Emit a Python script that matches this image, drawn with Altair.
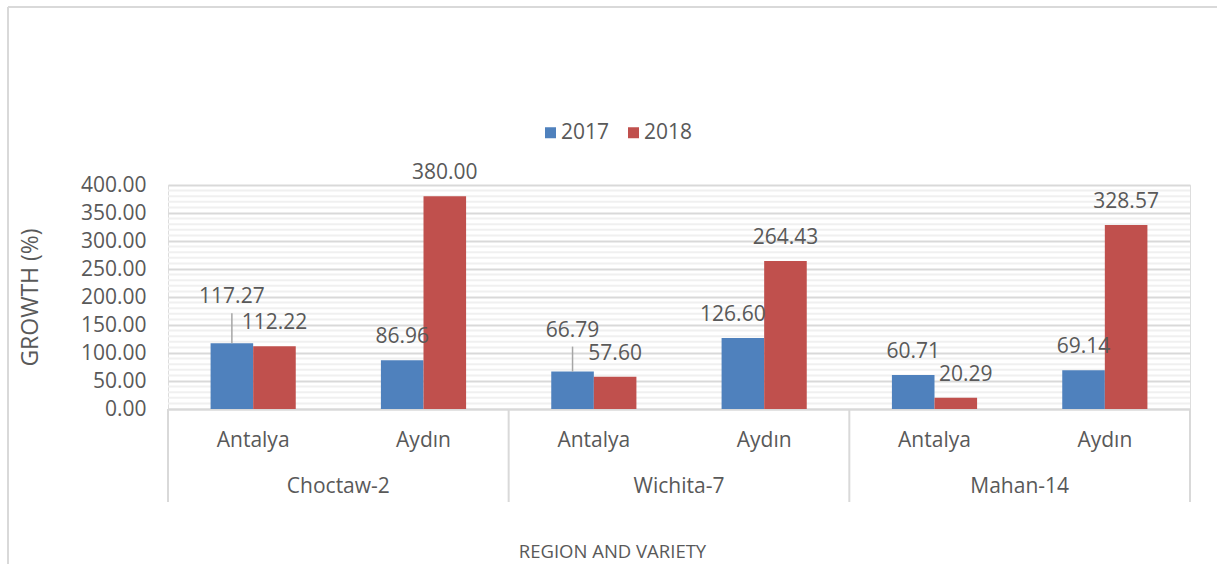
import altair as alt
import pandas as pd

# ---------------- data ----------------
varieties = ["Choctaw-2", "Wichita-7", "Mahan-14"]
regions = ["Antalya", "Aydın"]
years = ["2017", "2018"]
growth_2017 = [117.27, 86.96, 66.79, 126.60, 60.71, 69.14]
growth_2018 = [112.22, 380.00, 57.60, 264.43, 20.29, 328.57]
y_ticks = [0, 50, 100, 150, 200, 250, 300, 350, 400]

# label nudges in pixels: (variety, region, year) -> (dx, dy, leader length)
label_nudge = {
    ("Choctaw-2", "Antalya", "2017"): (0, -40, 30),
    ("Wichita-7", "Antalya", "2017"): (0, -35, 25),
    ("Wichita-7", "Aydın", "2017"): (-10, -17, 0),
    ("Mahan-14", "Antalya", "2018"): (10, -17, 0),
}
DEFAULT_NUDGE = (0, -17, 0)

rows = []
for vi, v in enumerate(varieties):
    for ri, r in enumerate(regions):
        idx = vi * len(regions) + ri
        for yr, vals in zip(years, [growth_2017, growth_2018]):
            dx, dy, lead = label_nudge.get((v, r, yr), DEFAULT_NUDGE)
            rows.append({
                "key": f"{v}|{r}", "variety": v, "region": r, "year": yr,
                "value": vals[idx], "label": f"{vals[idx]:.2f}",
                "nudge": f"{dx},{dy}", "lead": lead,
            })
df = pd.DataFrame(rows)
keys = [f"{v}|{r}" for v in varieties for r in regions]
groups = pd.DataFrame({"key": [f"{v}|{regions[0]}" for v in varieties], "variety": varieties})
last = pd.DataFrame({"key": [keys[-1]]})

# ---------------- layout ----------------
W, H = 1022, 224
PAD = {"left": 168, "top": 185, "right": 27, "bottom": 155}
TXT = "#595959"
FONT = "Open Sans"
PX_PER_UNIT = H / 400.0

xscale = alt.Scale(domain=keys, paddingInner=0, paddingOuter=0)
yscale = alt.Scale(domain=[0, 400], nice=False)

x_axis = alt.Axis(
    labelExpr="split(datum.value, '|')[1]", labelFontSize=21, labelColor=TXT,
    labelFont=FONT, labelPadding=31, labelBaseline="middle", labelAngle=0,
    ticks=False, tickSize=0, domainColor="#d9d9d9", domainWidth=2,
    title="REGION AND VARIETY", titleX=444, titleY=142, titleFontSize=18.5,
    titleFontWeight="normal", titleColor=TXT, titleFont=FONT,
    titleBaseline="middle", titleAlign="center", grid=False,
)
y_axis = alt.Axis(
    values=y_ticks, tickCount=len(y_ticks), format=".2f", labelFontSize=21,
    labelColor=TXT, labelFont=FONT, labelPadding=22, labelOverlap=False,
    ticks=False, domain=False, gridColor="#d9d9d9", gridWidth=2,
    title="GROWTH (%)", titleX=-138, titleY=112, titleAngle=270,
    titleBaseline="middle", titleAlign="center", titleFontSize=23,
    titleFontWeight="normal", titleColor=TXT, titleFont=FONT,
)

xenc = alt.X("key:N", scale=xscale, axis=x_axis, sort=keys)
xoff = alt.XOffset("year:N", scale=alt.Scale(domain=years, paddingInner=0, paddingOuter=1))
yenc = alt.Y("value:Q", scale=yscale, axis=y_axis)

minor = alt.Chart(alt.sequence(10, 400, 10, as_="value")).transform_filter(
    "datum.value % 50 != 0"
).mark_rule(color="#f0f0f0", strokeWidth=2).encode(y=yenc)

bars = alt.Chart(df).mark_bar().encode(
    x=xenc, xOffset=xoff, y=yenc,
    color=alt.Color("year:N", scale=alt.Scale(domain=years, range=["#4F81BD", "#C0504D"]),
                    legend=alt.Legend(orient="none", legendX=372, legendY=-63,
                                      direction="horizontal", title=None,
                                      symbolType="square", symbolSize=121,
                                      symbolStrokeWidth=0, labelFontSize=21,
                                      labelColor=TXT, labelFont=FONT,
                                      columnPadding=13, labelOffset=0)),
)

leaders = alt.Chart(df).transform_filter("datum.lead > 0").transform_calculate(
    top=f"datum.value + datum.lead / {PX_PER_UNIT}"
).mark_rule(color="#a6a6a6", strokeWidth=1.5).encode(
    x=xenc, xOffset=xoff, y=yenc, y2="top:Q",
)

label_layers = []
for nd in sorted(set(df["nudge"])):
    dx, dy = (int(s) for s in nd.split(","))
    label_layers.append(
        alt.Chart(df).transform_filter(f"datum.nudge == '{nd}'").mark_text(
            baseline="alphabetic", align="center", dx=dx, dy=dy,
            fontSize=21, font=FONT, color=TXT,
        ).encode(x=xenc, xOffset=xoff, y=yenc, text="label:N")
    )

group_text = alt.Chart(groups).mark_text(
    baseline="middle", align="center", fontSize=21, font=FONT, color=TXT
).encode(x=alt.X("key:N", scale=xscale, axis=x_axis, sort=keys, bandPosition=1),
         y=alt.value(302), text="variety:N")

sep = alt.Chart(groups).mark_rule(color="#d9d9d9", strokeWidth=2).encode(
    x=alt.X("key:N", scale=xscale, axis=x_axis, sort=keys, bandPosition=0),
    y=alt.value(H), y2=alt.value(317))
sep_end = alt.Chart(last).mark_rule(color="#d9d9d9", strokeWidth=2).encode(
    x=alt.X("key:N", scale=xscale, axis=x_axis, sort=keys, bandPosition=1),
    y=alt.value(H), y2=alt.value(317))

frame_top = alt.Chart(last).mark_rule(color="#d9d9d9", strokeWidth=2).encode(
    x=alt.value(-160), x2=alt.value(W + 40), y=alt.value(-178))
frame_left = alt.Chart(last).mark_rule(color="#d9d9d9", strokeWidth=2).encode(
    x=alt.value(-160), y=alt.value(-178), y2=alt.value(H + 170))

chart = alt.layer(
    minor, bars, leaders, *label_layers, group_text, sep, sep_end, frame_top, frame_left
).properties(
    width=W, height=H, padding=PAD, autosize=alt.AutoSizeParams(type="none"),
    background="white",
).configure_view(stroke=None).configure(font=FONT)

chart.save("out.html", embed_options={"renderer": "svg", "actions": False})
